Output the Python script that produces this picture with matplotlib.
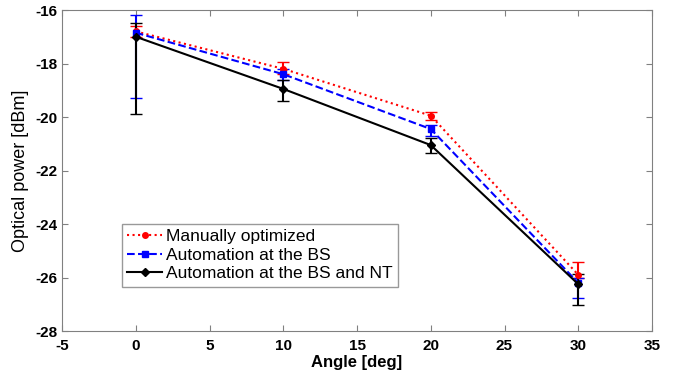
import matplotlib
matplotlib.use("Agg")
import matplotlib.pyplot as plt
from matplotlib.lines import Line2D

plt.rcParams['font.family'] = ['Liberation Sans', 'DejaVu Sans']
plt.rcParams['axes.unicode_minus'] = False

angles = [0, 10, 20, 30]

manual = [-16.8, -18.2, -19.95, -25.9]
manual_lo = [-17.0, -18.4, -20.1, -26.0]
manual_hi = [-16.6, -17.95, -19.8, -25.42]

bs = [-16.85, -18.4, -20.45, -26.2]
bs_lo = [-19.3, -18.6, -20.7, -26.77]
bs_hi = [-16.2, -18.2, -20.3, -26.0]

bsnt = [-17.0, -18.95, -21.05, -26.25]
bsnt_lo = [-19.9, -19.4, -21.35, -27.03]
bsnt_hi = [-16.5, -18.6, -20.8, -25.87]

labels = ["Manually optimized", "Automation at the BS", "Automation at the BS and NT"]

fig = plt.figure(figsize=(6.84, 3.79), dpi=100)
ax = fig.add_axes([62/684, 48/379, 590/684, 321/379])

def err(v, lo, hi):
    return [[a - b for a, b in zip(v, lo)], [b - a for a, b in zip(v, hi)]]

styles = [('red', ':', 'o'), ('blue', '--', 's'), ('black', '-', 'D')]
series = [(manual, manual_lo, manual_hi), (bs, bs_lo, bs_hi), (bsnt, bsnt_lo, bsnt_hi)]
handles = []
for (c, ls, m), (v, lo, hi), lab in zip(styles, series, labels):
    ax.errorbar(angles, v, yerr=err(v, lo, hi), color=c, ls=ls, marker=m, ms=4,
                lw=1.5, capsize=4, elinewidth=1.5)
    handles.append(Line2D([], [], color=c, ls=ls, marker=m, ms=4, lw=1.5, label=lab))

ax.set_xlim(-5, 35)
ax.set_ylim(-28, -16)
ax.set_xticks(range(-5, 36, 5))
ax.set_yticks(range(-28, -15, 2))
for t in ax.get_xticklabels() + ax.get_yticklabels():
    t.set_fontweight('bold')
    t.set_fontsize(11)
ax.tick_params(direction='in', length=4, color='#808080')
ax.tick_params(axis='x', pad=6)
ax.tick_params(axis='y', pad=3)
ax.tick_params(top=True, right=True)
for s in ax.spines.values():
    s.set_color('#808080')

ax.set_xlabel("Angle [deg]", fontsize=12, fontweight='bold', labelpad=1)
ax.set_ylabel("Optical power [dBm]", fontsize=13, labelpad=5)

leg = ax.legend(handles=handles, loc='lower left', bbox_to_anchor=(0.102, 0.138), fontsize=12.5,
                frameon=True, fancybox=False, edgecolor='#808080',
                borderpad=0.3, labelspacing=0.2, handlelength=2.0, handletextpad=0.25,
                borderaxespad=0)
leg.get_frame().set_linewidth(1.0)

fig.savefig("out.png", dpi=100)
